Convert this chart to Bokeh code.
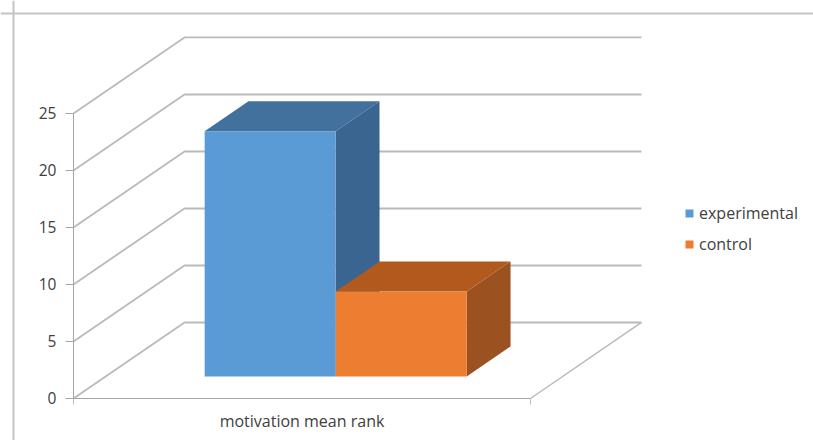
from bokeh.plotting import figure
from bokeh.models import Range1d, LinearAxis, FixedTicker, Legend, LegendItem, Span
from bokeh.embed import file_html
from bokeh.resources import INLINE

category = "motivation mean rank"
series = ["experimental", "control"]
values = [21.5, 7.45]
y_ticks = [0, 5, 10, 15, 20, 25]
front = ["#5B9BD5", "#ED7D31"]
top = ["#41719C", "#B25A1E"]
side = ["#3A6591", "#9C5220"]

DX, DY = 0.2429, 6.667          # screen shear of one unit of depth
BAR_Z0, BAR_Z1 = 0.29, 0.685    # bar depth span
BAR_X0, BAR_W = 0.2166, 0.2867  # first bar left edge and width per series
FONT = "Open Sans"
GRID = "#BABABA"

p = figure(width=813, height=440, output_backend="svg", toolbar_location=None,
           x_range=Range1d(-0.1597, 1.6193), y_range=Range1d(-3.684, 34.91),
           x_axis_type=None, y_axis_type=None, min_border=0,
           background_fill_color="white", border_fill_color="white")
p.outline_line_color = None
p.grid.visible = False

def proj(x, v, z):
    return x + z * DX, v + z * DY

# walls
for t in y_ticks:
    x0, y0 = proj(0, t, 0)
    x1, y1 = proj(0, t, 1)
    x2, y2 = proj(1, t, 1)
    p.line([x0, x1, x2], [y0, y1, y2], line_color=GRID, line_width=1.8)
# floor right edge
x0, y0 = proj(1, 0, 0)
x1, y1 = proj(1, 0, 1)
p.line([x0, x1], [y0, y1], line_color=GRID, line_width=1.5)

# bars
items = []
for i, (name, v) in enumerate(zip(series, values)):
    xl = BAR_X0 + i * BAR_W
    xr = xl + BAR_W
    c = [proj(xl, 0, BAR_Z0), proj(xr, 0, BAR_Z0), proj(xr, v, BAR_Z0), proj(xl, v, BAR_Z0)]
    t = [proj(xl, v, BAR_Z0), proj(xr, v, BAR_Z0), proj(xr, v, BAR_Z1), proj(xl, v, BAR_Z1)]
    s = [proj(xr, 0, BAR_Z0), proj(xr, 0, BAR_Z1), proj(xr, v, BAR_Z1), proj(xr, v, BAR_Z0)]
    p.patch(*zip(*s), fill_color=side[i], line_color=None)
    p.patch(*zip(*t), fill_color=top[i], line_color=None)
    r = p.patch(*zip(*c), fill_color=front[i], line_color=None)
    items.append(LegendItem(label=name, renderers=[r]))

# axes
ya = LinearAxis(ticker=FixedTicker(ticks=y_ticks), bounds=(0, 25), fixed_location=0)
ya.axis_line_color = "#A6A6A6"
ya.major_tick_line_color = "#A6A6A6"
ya.minor_tick_line_color = None
ya.major_tick_out = 8
ya.major_tick_in = 0
ya.major_label_standoff = 9
ya.major_label_text_font = FONT
ya.major_label_text_font_size = "15.5px"
ya.major_label_text_color = "#404040"
p.add_layout(ya, "left")

xa = LinearAxis(ticker=FixedTicker(ticks=[0, 1]), bounds=(0, 1), fixed_location=0)
xa.axis_line_color = "#A6A6A6"
xa.major_tick_line_color = "#BDBDBD"
xa.minor_tick_line_color = None
xa.major_tick_out = 6
xa.major_tick_in = 0
xa.major_label_overrides = {0: "", 1: ""}
xa.axis_label = category
xa.axis_label_standoff = 5
xa.axis_label_text_font = FONT
xa.axis_label_text_font_style = "normal"
xa.axis_label_text_font_size = "16px"
xa.axis_label_text_color = "#404040"
p.add_layout(xa, "below")

# chart frame
p.add_layout(Span(location=13, location_units="screen", dimension="height",
                  line_color="#C4C4C4", line_width=2))
p.add_layout(Span(location=427, location_units="screen", dimension="width",
                  line_color="#C4C4C4", line_width=2))

legend = Legend(items=items, location=(684, 185), orientation="vertical",
                background_fill_alpha=0, border_line_color=None,
                glyph_width=10, glyph_height=10, label_standoff=5, spacing=9,
                label_text_font=FONT, label_text_font_size="16px",
                label_text_color="#404040", margin=0, padding=0)
p.add_layout(legend, "center")

open("out.html", "w").write(file_html(p, INLINE))
